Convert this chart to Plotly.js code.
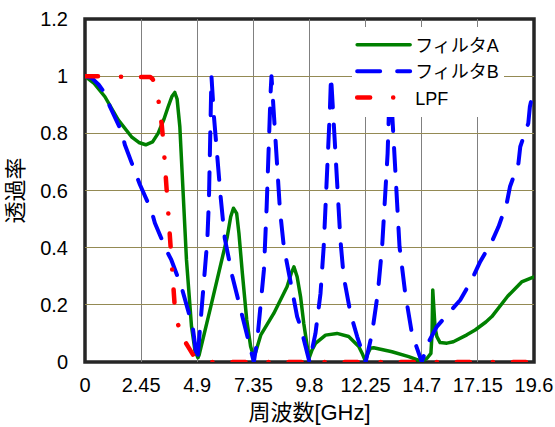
<!DOCTYPE html>
<html>
<head>
<meta charset="utf-8">
<script src="https://cdn.plot.ly/plotly-3.0.1.min.js"></script>
<style>
  html, body { margin: 0; padding: 0; background: #ffffff; }
  #chart { width: 555px; height: 427px; }
</style>
</head>
<body>
<div id="chart"></div>
<script>
// Transmission of two filters and a low-pass filter versus frequency [GHz]

// Filter A (solid green)
const filterAFreq = [0, 0.4, 0.87, 1.45, 2.03, 2.35, 2.65, 2.95, 3.19, 3.45, 3.63, 3.8, 3.92, 4.02, 4.14, 4.28, 4.43, 4.65, 4.8, 4.93,
  4.98, 5.49, 6.07, 6.21, 6.36, 6.48, 6.62, 6.72, 6.87, 7.06, 7.23, 7.35,
  7.45, 7.67, 8.24, 8.82, 9.0, 9.12, 9.26, 9.41, 9.55, 9.7, 9.78,
  9.9, 10.06, 10.5, 11.0, 11.51, 11.95, 12.1, 12.24,
  12.32, 12.46, 12.6, 13.4, 14.13, 14.7,
  14.93, 15.1, 15.15, 15.18, 15.22, 15.28, 15.36, 15.5, 15.8, 16.08, 16.67, 17.03, 17.5, 17.76, 18.45, 19.06, 19.6];
const filterAValue = [1.0, 0.975, 0.928, 0.847, 0.788, 0.768, 0.76, 0.77, 0.8, 0.85, 0.893, 0.93, 0.943, 0.92, 0.823, 0.59, 0.357, 0.124, 0.04, 0.015,
  0.024, 0.194, 0.392, 0.438, 0.508, 0.538, 0.52, 0.45, 0.31, 0.147, 0.054, 0.022,
  0.035, 0.094, 0.17, 0.263, 0.31, 0.333, 0.298, 0.228, 0.135, 0.042, 0.013,
  0.04, 0.065, 0.094, 0.1, 0.089, 0.054, 0.03, 0.003,
  0.025, 0.048, 0.05, 0.036, 0.019, 0.002,
  0.013, 0.03, 0.1, 0.252, 0.2, 0.12, 0.089, 0.068, 0.066, 0.071, 0.095, 0.112, 0.14, 0.159, 0.23, 0.28, 0.298];

// Filter B (dashed blue)
const filterBFreq = [0, 0.3, 0.6, 0.87, 1.09, 1.6, 1.74, 2.18, 2.4, 2.9, 3.05, 3.56, 3.77, 4.21, 4.36, 4.7, 4.9,
  5.05, 5.15, 5.27, 5.34, 5.41, 5.44, 5.49, 5.52, 5.63, 5.78, 5.92, 6.1, 6.43, 6.91, 7.37,
  7.52, 7.67, 7.81, 7.93, 8.0, 8.1, 8.14, 8.32, 8.51, 8.68, 8.97, 9.26, 9.41, 9.8,
  10.06, 10.28, 10.42, 10.52, 10.61, 10.69, 10.74, 10.83, 10.93, 11.03, 11.15, 11.29, 11.59, 11.88, 12.25,
  12.53, 12.78, 12.97, 13.11, 13.21, 13.27, 13.33, 13.4, 13.5, 13.62, 13.73, 13.98, 14.27, 14.7,
  15.0, 15.36, 15.94, 16.38, 16.88, 17.25, 17.76, 18.05, 18.41, 18.55, 18.92, 19.0, 19.35, 19.42, 19.6];
const filterBValue = [1.0, 0.993, 0.97, 0.94, 0.893, 0.806, 0.76, 0.67, 0.62, 0.53, 0.486, 0.39, 0.357, 0.263, 0.217, 0.124, 0.0,
  0.159, 0.24, 0.357, 0.427, 0.567, 0.672, 0.788, 1.0, 0.858, 0.707, 0.578, 0.433, 0.3, 0.147, 0.0,
  0.077, 0.194, 0.322, 0.543, 0.748, 0.94, 1.0, 0.765, 0.532, 0.403, 0.287, 0.159, 0.124, 0.0,
  0.1, 0.24, 0.403, 0.567, 0.73, 0.882, 1.0, 0.882, 0.73, 0.567, 0.427, 0.3, 0.17, 0.089, 0.0,
  0.1, 0.24, 0.403, 0.567, 0.73, 0.882, 1.0, 0.882, 0.73, 0.567, 0.403, 0.24, 0.1, 0.0,
  0.07, 0.124, 0.176, 0.217, 0.287, 0.351, 0.421, 0.473, 0.555, 0.613, 0.695, 0.753, 0.835, 0.893, 0.96];

// LPF (dash-dot red)
const lpfFreq = [0, 1.0, 2.0, 2.6, 2.85, 2.95, 3.05, 3.15, 3.25, 3.35, 3.42, 3.47, 3.53, 3.58, 3.63, 3.68, 3.73, 3.8, 3.87, 3.93, 4.02, 4.14, 4.3, 4.5, 4.7, 4.85, 5.0, 19.6];
const lpfValue = [1.0, 1.0, 1.0, 1.0, 0.997, 0.99, 0.975, 0.95, 0.9, 0.83, 0.77, 0.71, 0.64, 0.58, 0.51, 0.44, 0.38, 0.31, 0.24, 0.18, 0.14, 0.112, 0.08, 0.054, 0.025, 0.008, 0.0, 0.0];

// Axis ticks
const xTickVals = [0, 2.45, 4.9, 7.35, 9.8, 12.25, 14.7, 17.15, 19.6];
const xTickText = ['0', '2.45', '4.9', '7.35', '9.8', '12.25', '14.7', '17.15', '19.6'];
const yTickVals = [0, 0.2, 0.4, 0.6, 0.8, 1.0, 1.2];
const yTickText = ['0', '0.2', '0.4', '0.6', '0.8', '1', '1.2'];

const FONT = 'Liberation Sans, Arial, "Noto Sans CJK JP", sans-serif';

const traces = [
  {
    x: filterAFreq, y: filterAValue, name: 'フィルタA', type: 'scatter', mode: 'lines',
    line: { color: '#008000', width: 3.5 }, cliponaxis: false
  },
  {
    x: filterBFreq, y: filterBValue, name: 'フィルタB', type: 'scatter', mode: 'lines',
    line: { color: '#0000ff', width: 4, dash: '23px,17px' }, cliponaxis: false
  },
  {
    x: lpfFreq, y: lpfValue, name: 'LPF', type: 'scatter', mode: 'lines',
    line: { color: '#ff0000', width: 4.5, dash: '13px,23px,0.1px,20px' }, cliponaxis: false
  }
];

const layout = {
  width: 555, height: 427,
  margin: { l: 85, r: 21, t: 19, b: 65, pad: 0 },
  paper_bgcolor: '#ffffff', plot_bgcolor: '#ffffff',
  font: { family: FONT, size: 20, color: '#000000' },
  showlegend: true,
  legend: {
    x: 0.595, xanchor: 'left', y: 0.978, yanchor: 'top',
    bgcolor: '#ffffff', borderwidth: 0, itemwidth: 53,
    font: { family: FONT, size: 18, color: '#000000' }
  },
  xaxis: {
    range: [0, 19.6], tickmode: 'array', tickvals: xTickVals, ticktext: xTickText,
    showgrid: true, gridcolor: '#808080', gridwidth: 1, zeroline: false, showline: false,
    ticks: '', ticklabelstandoff: 9, tickfont: { family: FONT, size: 20 },
    title: { text: '周波数[GHz]', font: { family: FONT, size: 22 }, standoff: 9 },
    automargin: false, fixedrange: true
  },
  yaxis: {
    range: [0, 1.2], tickmode: 'array', tickvals: yTickVals, ticktext: yTickText,
    showgrid: true, gridcolor: '#948a54', gridwidth: 1, zeroline: false, showline: false,
    ticks: '', ticklabelstandoff: 16, tickfont: { family: FONT, size: 20 },
    title: { text: '透過率', font: { family: FONT, size: 22 }, standoff: 10 },
    automargin: false, fixedrange: true
  },
  shapes: [
    {
      type: 'rect', xref: 'paper', yref: 'paper', x0: 0, x1: 1, y0: 0, y1: 1,
      line: { color: '#262626', width: 3.5 }, fillcolor: 'rgba(0,0,0,0)', layer: 'between'
    }
  ]
};

Plotly.newPlot('chart', traces, layout, { displayModeBar: false, staticPlot: true }).then(function (gd) {
  // round caps give the dashes and dots their rounded ends
  gd.querySelectorAll('.scatterlayer path.js-line, .legend path.js-line').forEach(function (p) {
    p.style.strokeLinecap = 'round';
    p.style.strokeLinejoin = 'round';
  });
});
</script>
</body>
</html>
